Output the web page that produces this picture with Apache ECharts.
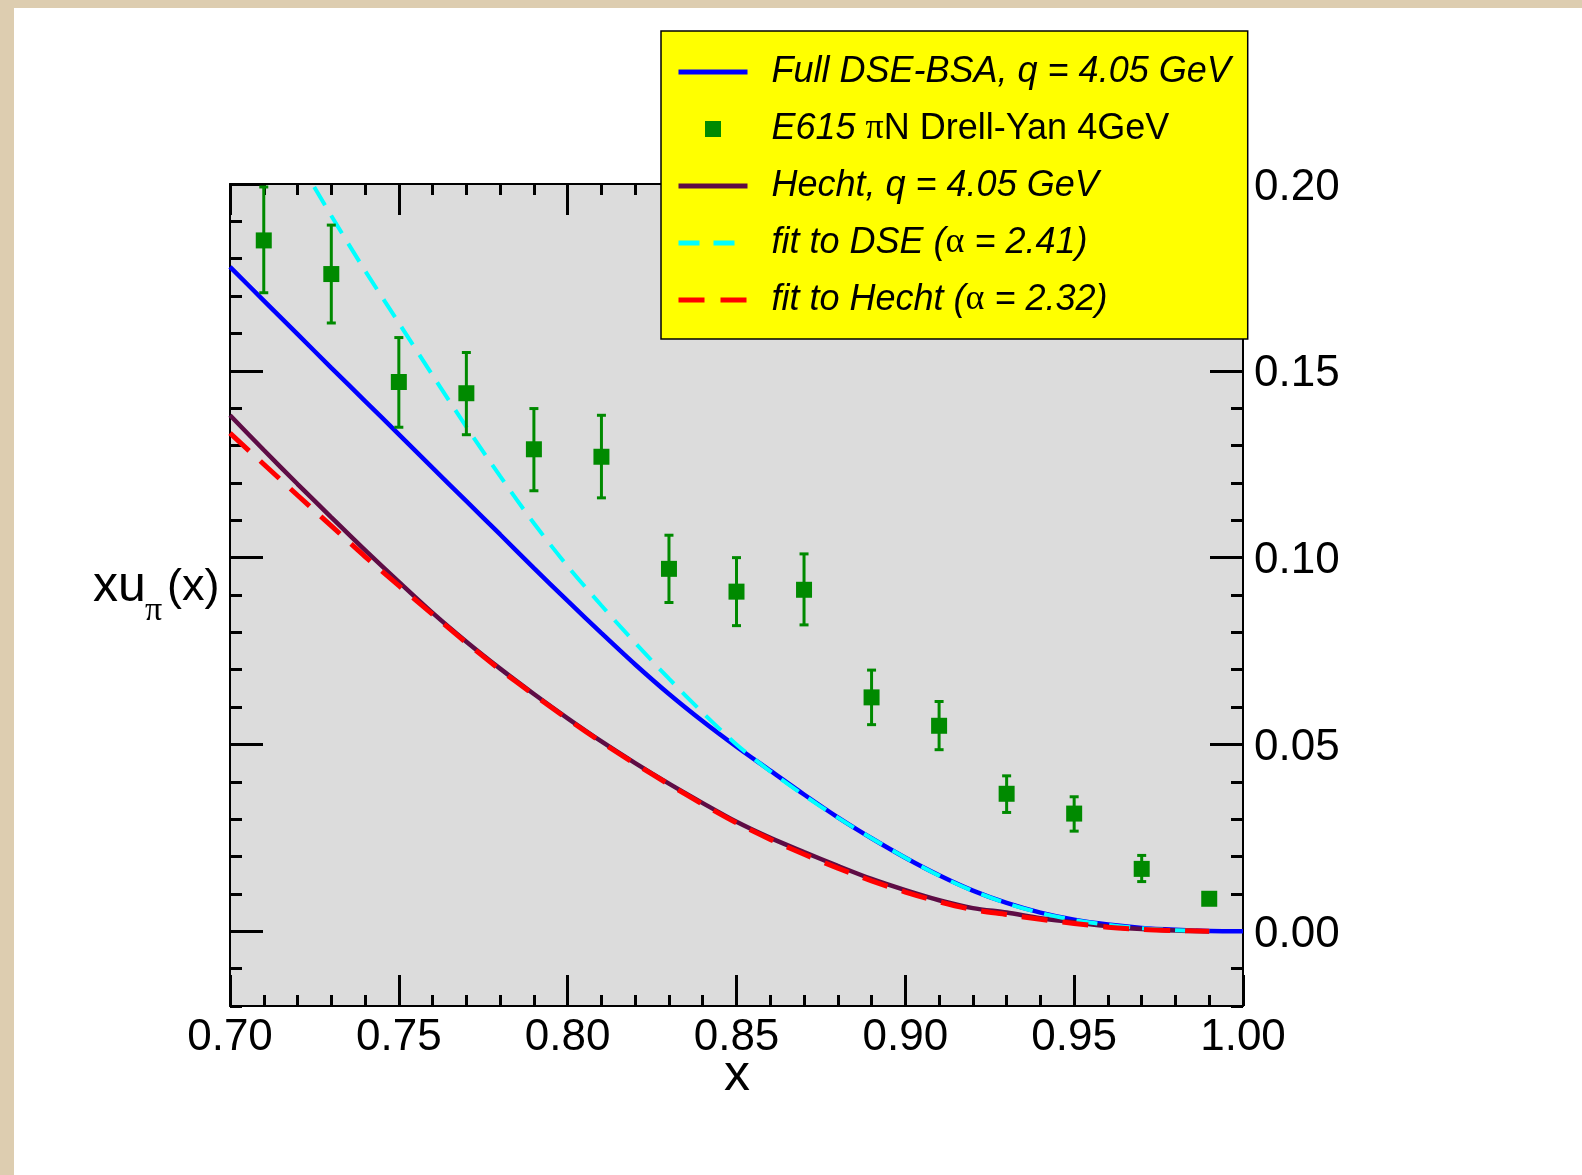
<!DOCTYPE html>
<html>
<head>
<meta charset="utf-8">
<title>xu_pi(x)</title>
<script src="https://cdn.jsdelivr.net/npm/echarts@6/dist/echarts.min.js"></script>
<style>
  html, body { margin: 0; padding: 0; }
  #frame { position: relative; width: 1582px; height: 1175px; background: #ddcdb0; overflow: hidden; }
  #paper { position: absolute; left: 14px; top: 8px; right: 0; bottom: 0; background: #fff; }
  #chart { position: absolute; left: 0; top: 0; width: 1582px; height: 1175px; }
</style>
</head>
<body>
<div id="frame">
  <div id="paper"></div>
  <div id="chart"></div>
</div>
<script>
// E615 data points with error bars
const e615X = [0.71, 0.73, 0.75, 0.77, 0.79, 0.81, 0.83, 0.85, 0.87, 0.89, 0.91, 0.93, 0.95, 0.97, 0.99]
const e615Y = [0.1849, 0.1759, 0.1470, 0.1440, 0.1290, 0.1270, 0.0970, 0.0909, 0.0914, 0.0626, 0.0550, 0.0368, 0.0315, 0.0167, 0.0087]
const e615Hi = [0.1992, 0.1890, 0.1589, 0.1549, 0.1399, 0.1381, 0.1060, 0.1000, 0.1010, 0.0699, 0.0615, 0.0416, 0.0360, 0.0203, 0.0100]
const e615Lo = [0.1709, 0.1628, 0.1349, 0.1329, 0.1179, 0.1160, 0.0880, 0.0818, 0.0820, 0.0553, 0.0486, 0.0318, 0.0268, 0.0133, 0.0075]

// curves, read every 0.01 in x
const curveX = [0.70, 0.71, 0.72, 0.73, 0.74, 0.75, 0.76, 0.77, 0.78, 0.79,
  0.80, 0.81, 0.82, 0.83, 0.84, 0.85, 0.86, 0.87, 0.88, 0.89,
  0.90, 0.91, 0.92, 0.93, 0.94, 0.95, 0.96, 0.97, 0.98, 0.99, 1.00]
const dseFull = [0.1778, 0.1688, 0.1598, 0.1508, 0.1419, 0.1330, 0.1240, 0.1151, 0.1062, 0.0972,
  0.0884, 0.0798, 0.0714, 0.0635, 0.0562, 0.0494, 0.0430, 0.0366, 0.0305, 0.0249,
  0.0197, 0.0150, 0.0109, 0.0076, 0.0050, 0.0031, 0.0018, 0.0009, 0.0004, 0.0001, 0.0000]
const hecht = [0.1381, 0.1288, 0.1197, 0.1108, 0.1020, 0.0935, 0.0852, 0.0775, 0.0703, 0.0635,
  0.0570, 0.0508, 0.0450, 0.0395, 0.0343, 0.0293, 0.0250, 0.0212, 0.0175, 0.0140,
  0.0110, 0.0083, 0.0062, 0.0050, 0.0035, 0.0024, 0.0013, 0.0006, 0.0002, 0.0000, null]
const fitDse = [null, null, 0.2068, 0.1915, 0.1768, 0.1628, 0.1488, 0.1350, 0.1218, 0.1092,
  0.0977, 0.0872, 0.0772, 0.0676, 0.0585, 0.0500, 0.0428, 0.0364, 0.0304, 0.0249,
  0.0197, 0.0149, 0.0108, 0.0075, 0.0049, 0.0030, 0.0017, 0.0008, 0.0003, 0.0001, null]
const fitHecht = [0.1333, 0.1250, 0.1167, 0.1085, 0.1003, 0.0925, 0.0848, 0.0772, 0.0700, 0.0633,
  0.0568, 0.0506, 0.0448, 0.0393, 0.0340, 0.0290, 0.0246, 0.0206, 0.0169, 0.0135,
  0.0105, 0.0079, 0.0058, 0.0045, 0.0032, 0.0021, 0.0011, 0.0005, 0.0002, 0.0000, null]

const yMajor = [0, 0.05, 0.1, 0.15, 0.2]

const names = [
  'Full DSE-BSA, q = 4.05 GeV',
  'E615 πN Drell-Yan 4GeV',
  'Hecht, q = 4.05 GeV',
  'fit to DSE (α = 2.41)',
  'fit to Hecht (α = 2.32)'
]

const FONT = '"Liberation Sans", Arial, Helvetica, sans-serif'
const GREEK = '"Liberation Serif", "DejaVu Serif", serif'
const GREEN = '#008a00'
const BLUE = '#0000ff'
const PURPLE = '#5e0c45'
const CYAN = '#00ffff'
const RED = '#ff0000'

const chart = echarts.init(document.getElementById('chart'))

function pairs (ys) {
  return curveX.map((x, i) => [x, ys[i]])
}

const xAxisBase = {
  type: 'value',
  min: 0.7,
  max: 1.0,
  interval: 0.05,
  axisLine: { onZero: false, lineStyle: { color: '#000', width: 2 } },
  axisTick: { inside: true, length: 31, lineStyle: { color: '#000', width: 3 } },
  minorTick: { show: true, splitNumber: 5, length: 11, lineStyle: { color: '#000', width: 3 } },
  splitLine: { show: false },
  minorSplitLine: { show: false }
}

function yAxisMajor (pos, labels) {
  return {
    type: 'value',
    position: pos,
    min: -0.02,
    max: 0.2,
    interval: 0.01,
    axisLine: { show: true, onZero: false, lineStyle: { color: '#000', width: 2 } },
    axisTick: { inside: true, length: 33, customValues: yMajor, lineStyle: { color: '#000', width: 3 } },
    axisLabel: {
      show: labels,
      customValues: yMajor,
      margin: 11,
      color: '#000',
      formatter: v => '{a|' + v.toFixed(2) + '}',
      rich: {
        a: { fontFamily: FONT, fontSize: 44, color: '#000', padding: [7, 0, 0, 0] }
      }
    },
    splitLine: { show: false }
  }
}

function yAxisMinor (pos) {
  return {
    type: 'value',
    position: pos,
    min: -0.02,
    max: 0.2,
    interval: 0.01,
    axisLine: { show: false, onZero: false },
    axisTick: { inside: true, length: 12, lineStyle: { color: '#000', width: 3 } },
    axisLabel: { show: false },
    splitLine: { show: false }
  }
}

// legend line samples without the dot
function lineItem (name, color, width, dash) {
  return {
    name: name,
    itemStyle: { color: 'transparent', borderWidth: 0, opacity: 0 },
    lineStyle: { color: color, width: width, type: dash || 'solid', opacity: 1 }
  }
}

chart.setOption({
  backgroundColor: 'transparent',
  animation: false,
  grid: {
    left: 230,
    top: 184,
    width: 1013,
    height: 822,
    show: true,
    backgroundColor: '#dcdcdc',
    borderWidth: 0,
    outerBoundsMode: 'none'
  },
  xAxis: [
    Object.assign({}, xAxisBase, {
      position: 'bottom',
      axisLabel: { margin: 10, fontFamily: FONT, fontSize: 44, color: '#000', formatter: v => v.toFixed(2) }
    }),
    Object.assign({}, xAxisBase, { position: 'top', axisLabel: { show: false } })
  ],
  yAxis: [yAxisMajor('right', true), yAxisMinor('right'), yAxisMajor('left', false), yAxisMinor('left')],
  legend: {
    orient: 'vertical',
    left: 661,
    top: 31,
    padding: [21, 17, 19, 15],
    itemGap: 17,
    itemWidth: 69,
    itemHeight: 16,
    backgroundColor: '#ffff00',
    borderColor: '#000',
    borderWidth: 1.5,
    borderRadius: 0,
    data: [
      lineItem(names[0], BLUE, 5),
      { name: names[1], icon: 'path://M0,0H10V10H0Z', itemStyle: { color: GREEN, opacity: 1 } },
      lineItem(names[2], PURPLE, 5),
      lineItem(names[3], CYAN, 5, [21, 14]),
      lineItem(names[4], RED, 5, [26, 16])
    ],
    formatter: function (name) {
      if (name === names[1]) return '{g|}{i|E615 }{p|π}{n|N Drell-Yan 4GeV}'
      if (name === names[3]) return '{g|}{i|fit to DSE (}{p|α}{i| = 2.41)}'
      if (name === names[4]) return '{g|}{i|fit to Hecht (}{p|α}{i| = 2.32)}'
      return '{g|}{i|' + name + '}'
    },
    textStyle: {
      color: '#000',
      fontFamily: FONT,
      fontSize: 36,
      lineHeight: 40,
      rich: {
        g: { width: 19, height: 40 },
        i: { fontFamily: FONT, fontStyle: 'italic', fontSize: 36, color: '#000', lineHeight: 40 },
        n: { fontFamily: FONT, fontSize: 36, color: '#000', lineHeight: 40 },
        p: { fontFamily: GREEK, fontSize: 36, color: '#000', lineHeight: 40 }
      }
    }
  },
  graphic: [
    { type: 'text', x: 93, y: 587, style: { text: 'xu', font: '50px ' + FONT, fill: '#000', verticalAlign: 'middle' } },
    { type: 'text', x: 145, y: 611, style: { text: 'π', font: '34px ' + GREEK, fill: '#000', verticalAlign: 'middle' } },
    { type: 'text', x: 167, y: 588, style: { text: '(x)', font: '45px ' + FONT, fill: '#000', verticalAlign: 'middle' } },
    { type: 'text', x: 737, y: 1076, style: { text: 'x', font: '52px ' + FONT, fill: '#000', align: 'center', verticalAlign: 'middle' } }
  ],
  series: [
    {
      name: names[0],
      type: 'line',
      data: pairs(dseFull),
      smooth: 0.3,
      showSymbol: false,
      symbol: 'none',
      lineStyle: { color: BLUE, width: 4.5 },
      itemStyle: { color: BLUE },
      z: 3
    },
    {
      name: 'err',
      type: 'custom',
      data: e615X.map((x, i) => [x, e615Lo[i], e615Hi[i]]),
      encode: { x: 0, y: [1, 2] },
      renderItem: function (params, api) {
        const top = api.coord([api.value(0), api.value(2)])
        const bot = api.coord([api.value(0), api.value(1)])
        const c = 4.5
        const st = { stroke: GREEN, lineWidth: 3 }
        return {
          type: 'group',
          children: [
            { type: 'line', shape: { x1: top[0], y1: top[1], x2: bot[0], y2: bot[1] }, style: st },
            { type: 'line', shape: { x1: top[0] - c, y1: top[1], x2: top[0] + c, y2: top[1] }, style: st },
            { type: 'line', shape: { x1: bot[0] - c, y1: bot[1], x2: bot[0] + c, y2: bot[1] }, style: st }
          ]
        }
      },
      z: 4
    },
    {
      name: names[1],
      type: 'scatter',
      data: e615X.map((x, i) => [x, e615Y[i]]),
      symbol: 'rect',
      symbolSize: 16,
      itemStyle: { color: GREEN, opacity: 1 },
      z: 5
    },
    {
      name: names[2],
      type: 'line',
      data: pairs(hecht),
      smooth: 0.3,
      showSymbol: false,
      symbol: 'none',
      lineStyle: { color: PURPLE, width: 4.5 },
      itemStyle: { color: PURPLE },
      z: 3
    },
    {
      name: names[3],
      type: 'line',
      data: pairs(fitDse),
      smooth: 0.3,
      showSymbol: false,
      symbol: 'none',
      lineStyle: { color: CYAN, width: 4, type: [21, 12] },
      itemStyle: { color: CYAN },
      z: 3
    },
    {
      name: names[4],
      type: 'line',
      data: pairs(fitHecht),
      smooth: 0.3,
      showSymbol: false,
      symbol: 'none',
      lineStyle: { color: RED, width: 5, type: [26, 15] },
      itemStyle: { color: RED },
      z: 3
    }
  ]
})
</script>
</body>
</html>
